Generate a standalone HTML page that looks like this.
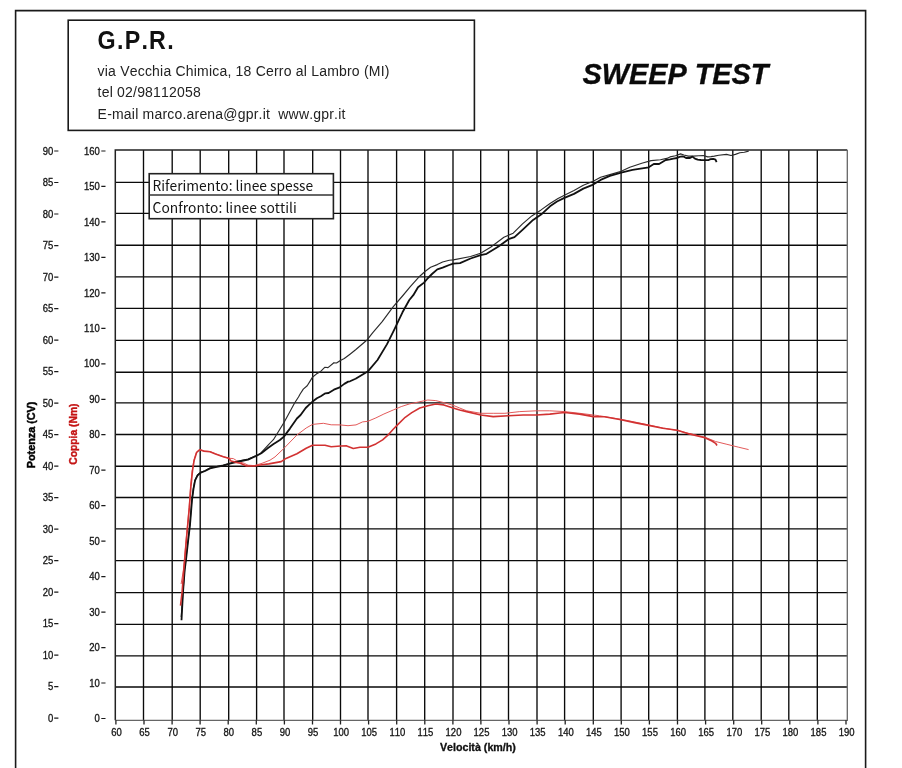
<!DOCTYPE html><html><head><meta charset="utf-8"><title>SWEEP TEST - G.P.R.</title>
<style>html,body{margin:0;padding:0;background:#fff;}svg{display:block;}text{font-family:"Liberation Sans", Arial, sans-serif;font-kerning:none;} text.lg{font-family:"Noto Sans CJK JP","Liberation Sans",sans-serif;}</style></head><body>
<svg width="902" height="768" viewBox="0 0 902 768">
<rect x="0" y="0" width="902" height="768" fill="#fff"/>
<path d="M15.6 770 V10.6 H865.6 V770" fill="none" stroke="#1a1a1a" stroke-width="1.6"/>
<rect x="68.2" y="20.2" width="406.2" height="110.2" fill="none" stroke="#1a1a1a" stroke-width="1.6"/>
<text transform="translate(97.6 48.7) scale(0.93 1)" font-size="25" font-weight="bold" letter-spacing="1.35" fill="#111">G.P.R.</text>
<g font-size="14" fill="#222" letter-spacing="0.2">
<text x="97.6" y="75.8">via Vecchia Chimica, 18 Cerro al Lambro (MI)</text>
<text x="97.6" y="96.8">tel 02/98112058</text>
<text x="97.6" y="118.7" xml:space="preserve">E-mail marco.arena@gpr.it  www.gpr.it</text>
</g>
<text transform="translate(582.5 83.6) scale(0.975 1)" font-size="29.6" font-weight="bold" font-style="italic" fill="#0a0a0a" stroke="#0a0a0a" stroke-width="0.35">SWEEP TEST</text>
<path d="M143.5 150.0 V720.3 M172.2 150.0 V720.3 M200.2 150.0 V720.3 M228.7 150.0 V720.3 M256.6 150.0 V720.3 M284.0 150.0 V720.3 M312.7 150.0 V720.3 M340.5 150.0 V720.3 M368.0 150.0 V720.3 M396.6 150.0 V720.3 M424.7 150.0 V720.3 M453.0 150.0 V720.3 M480.7 150.0 V720.3 M508.5 150.0 V720.3 M537.0 150.0 V720.3 M564.6 150.0 V720.3 M593.3 150.0 V720.3 M621.1 150.0 V720.3 M648.7 150.0 V720.3 M677.4 150.0 V720.3 M704.9 150.0 V720.3 M732.8 150.0 V720.3 M761.2 150.0 V720.3 M788.8 150.0 V720.3 M817.3 150.0 V720.3 M115.3 182.3 H847.3 M115.3 213.4 H847.3 M115.3 245.2 H847.3 M115.3 276.9 H847.3 M115.3 308.4 H847.3 M115.3 340.4 H847.3 M115.3 372.2 H847.3 M115.3 402.9 H847.3 M115.3 434.5 H847.3 M115.3 466.2 H847.3 M115.3 497.5 H847.3 M115.3 528.8 H847.3 M115.3 560.6 H847.3 M115.3 592.6 H847.3 M115.3 624.3 H847.3 M115.3 655.8 H847.3 M115.3 687.0 H847.3" fill="none" stroke="#0a0a0a" stroke-width="1.35"/>
<path d="M115.3 720.3 V150.0 H847.3" fill="none" stroke="#222" stroke-width="1.5"/>
<path d="M847.3 150.0 V720.3 H115.3" fill="none" stroke="#666" stroke-width="1.3"/>
<path d="M115.9 720.3 V724.6 M144.0 720.3 V724.6 M172.1 720.3 V724.6 M200.1 720.3 V724.6 M228.2 720.3 V724.6 M256.3 720.3 V724.6 M284.4 720.3 V724.6 M312.5 720.3 V724.6 M340.5 720.3 V724.6 M368.6 720.3 V724.6 M396.7 720.3 V724.6 M424.8 720.3 V724.6 M452.9 720.3 V724.6 M480.9 720.3 V724.6 M509.0 720.3 V724.6 M537.1 720.3 V724.6 M565.2 720.3 V724.6 M593.3 720.3 V724.6 M621.3 720.3 V724.6 M649.4 720.3 V724.6 M677.5 720.3 V724.6 M705.6 720.3 V724.6 M733.7 720.3 V724.6 M761.7 720.3 V724.6 M789.8 720.3 V724.6 M817.9 720.3 V724.6 M846.0 720.3 V724.6" fill="none" stroke="#222" stroke-width="1.3"/>
<g font-size="10.1" fill="#141414" stroke="#141414" stroke-width="0.3" text-anchor="middle">
<text transform="translate(116.5 736.3) scale(0.94 1)">60</text>
<text transform="translate(144.6 736.3) scale(0.94 1)">65</text>
<text transform="translate(172.7 736.3) scale(0.94 1)">70</text>
<text transform="translate(200.7 736.3) scale(0.94 1)">75</text>
<text transform="translate(228.8 736.3) scale(0.94 1)">80</text>
<text transform="translate(256.9 736.3) scale(0.94 1)">85</text>
<text transform="translate(285.0 736.3) scale(0.94 1)">90</text>
<text transform="translate(313.1 736.3) scale(0.94 1)">95</text>
<text transform="translate(341.1 736.3) scale(0.94 1)">100</text>
<text transform="translate(369.2 736.3) scale(0.94 1)">105</text>
<text transform="translate(397.3 736.3) scale(0.94 1)">110</text>
<text transform="translate(425.4 736.3) scale(0.94 1)">115</text>
<text transform="translate(453.5 736.3) scale(0.94 1)">120</text>
<text transform="translate(481.5 736.3) scale(0.94 1)">125</text>
<text transform="translate(509.6 736.3) scale(0.94 1)">130</text>
<text transform="translate(537.7 736.3) scale(0.94 1)">135</text>
<text transform="translate(565.8 736.3) scale(0.94 1)">140</text>
<text transform="translate(593.9 736.3) scale(0.94 1)">145</text>
<text transform="translate(621.9 736.3) scale(0.94 1)">150</text>
<text transform="translate(650.0 736.3) scale(0.94 1)">155</text>
<text transform="translate(678.1 736.3) scale(0.94 1)">160</text>
<text transform="translate(706.2 736.3) scale(0.94 1)">165</text>
<text transform="translate(734.3 736.3) scale(0.94 1)">170</text>
<text transform="translate(762.3 736.3) scale(0.94 1)">175</text>
<text transform="translate(790.4 736.3) scale(0.94 1)">180</text>
<text transform="translate(818.5 736.3) scale(0.94 1)">185</text>
<text transform="translate(846.6 736.3) scale(0.94 1)">190</text>
</g>
<g font-size="10.1" fill="#141414" stroke="#141414" stroke-width="0.3" text-anchor="end">
<text transform="translate(53.3 721.8) scale(0.94 1)">0</text>
<text transform="translate(53.3 690.3) scale(0.94 1)">5</text>
<text transform="translate(53.3 658.8) scale(0.94 1)">10</text>
<text transform="translate(53.3 627.3) scale(0.94 1)">15</text>
<text transform="translate(53.3 595.8) scale(0.94 1)">20</text>
<text transform="translate(53.3 564.3) scale(0.94 1)">25</text>
<text transform="translate(53.3 532.7) scale(0.94 1)">30</text>
<text transform="translate(53.3 501.2) scale(0.94 1)">35</text>
<text transform="translate(53.3 469.7) scale(0.94 1)">40</text>
<text transform="translate(53.3 438.2) scale(0.94 1)">45</text>
<text transform="translate(53.3 406.7) scale(0.94 1)">50</text>
<text transform="translate(53.3 375.2) scale(0.94 1)">55</text>
<text transform="translate(53.3 343.7) scale(0.94 1)">60</text>
<text transform="translate(53.3 312.2) scale(0.94 1)">65</text>
<text transform="translate(53.3 280.7) scale(0.94 1)">70</text>
<text transform="translate(53.3 249.2) scale(0.94 1)">75</text>
<text transform="translate(53.3 217.6) scale(0.94 1)">80</text>
<text transform="translate(53.3 186.1) scale(0.94 1)">85</text>
<text transform="translate(53.3 154.6) scale(0.94 1)">90</text>
<text transform="translate(99.9 722.1) scale(0.94 1)">0</text>
<text transform="translate(99.9 686.6) scale(0.94 1)">10</text>
<text transform="translate(99.9 651.2) scale(0.94 1)">20</text>
<text transform="translate(99.9 615.7) scale(0.94 1)">30</text>
<text transform="translate(99.9 580.2) scale(0.94 1)">40</text>
<text transform="translate(99.9 544.8) scale(0.94 1)">50</text>
<text transform="translate(99.9 509.3) scale(0.94 1)">60</text>
<text transform="translate(99.9 473.8) scale(0.94 1)">70</text>
<text transform="translate(99.9 438.3) scale(0.94 1)">80</text>
<text transform="translate(99.9 402.9) scale(0.94 1)">90</text>
<text transform="translate(99.9 367.4) scale(0.94 1)">100</text>
<text transform="translate(99.9 331.9) scale(0.94 1)">110</text>
<text transform="translate(99.9 296.5) scale(0.94 1)">120</text>
<text transform="translate(99.9 261.0) scale(0.94 1)">130</text>
<text transform="translate(99.9 225.5) scale(0.94 1)">140</text>
<text transform="translate(99.9 190.0) scale(0.94 1)">150</text>
<text transform="translate(99.9 154.6) scale(0.94 1)">160</text>
</g>
<path d="M54.2 718.2 H58.4 M54.2 686.7 H58.4 M54.2 655.2 H58.4 M54.2 623.7 H58.4 M54.2 592.2 H58.4 M54.2 560.7 H58.4 M54.2 529.1 H58.4 M54.2 497.6 H58.4 M54.2 466.1 H58.4 M54.2 434.6 H58.4 M54.2 403.1 H58.4 M54.2 371.6 H58.4 M54.2 340.1 H58.4 M54.2 308.6 H58.4 M54.2 277.1 H58.4 M54.2 245.6 H58.4 M54.2 214.0 H58.4 M54.2 182.5 H58.4 M54.2 151.0 H58.4 M101.3 718.5 H105.5 M101.3 683.0 H105.5 M101.3 647.6 H105.5 M101.3 612.1 H105.5 M101.3 576.6 H105.5 M101.3 541.1 H105.5 M101.3 505.7 H105.5 M101.3 470.2 H105.5 M101.3 434.7 H105.5 M101.3 399.3 H105.5 M101.3 363.8 H105.5 M101.3 328.3 H105.5 M101.3 292.9 H105.5 M101.3 257.4 H105.5 M101.3 221.9 H105.5 M101.3 186.4 H105.5 M101.3 151.0 H105.5" fill="none" stroke="#1a1a1a" stroke-width="1.2"/>
<text transform="translate(35 434.9) rotate(-90)" text-anchor="middle" font-size="10.8" font-weight="bold" fill="#000" stroke="#000" stroke-width="0.45">Potenza (CV)</text>
<text transform="translate(77 434.1) rotate(-90)" text-anchor="middle" font-size="10.3" font-weight="bold" fill="#c41414" stroke="#c41414" stroke-width="0.4">Coppia (Nm)</text>
<text x="477.9" y="750.8" text-anchor="middle" font-size="10.7" font-weight="bold" fill="#111" stroke="#111" stroke-width="0.3">Velocità (km/h)</text>
<rect x="149.2" y="173.7" width="184.2" height="45" fill="#fff" stroke="#222" stroke-width="1.6"/>
<path d="M149.2 195 H333.4" stroke="#333" stroke-width="1.6"/>
<g font-size="13.8" fill="#151515" font-weight="400">
<text class="lg" x="152.6" y="190.9" textLength="160.6" lengthAdjust="spacing">Riferimento: linee spesse</text>
<text class="lg" x="152.6" y="213.1" textLength="144.2" lengthAdjust="spacing">Confronto: linee sottili</text>
</g>
<polyline points="181.1,584.0 182.1,578.0 183.4,570.0 184.3,560.0 186.0,540.0 187.4,525.0 189.0,507.5 190.5,486.7 192.1,471.0 193.8,460.6 196.4,452.3 199.6,449.5 204.0,450.8 210.0,451.5 215.5,453.8 223.3,456.7 228.7,458.2 233.4,458.6 236.5,460.6 240.3,462.1 244.2,463.3 248.1,465.2 254.3,465.6 262.0,463.3 270.0,460.2 275.0,456.9 284.0,448.3 296.9,435.0 306.2,428.0 312.5,424.4 323.4,423.3 331.2,424.8 340.0,424.9 348.0,425.7 356.0,424.9 362.6,421.9 367.9,421.3 375.9,417.9 383.9,414.0 393.2,410.0 401.2,406.6 409.2,404.0 418.5,402.0 427.8,400.0 435.8,400.6 443.8,402.6 453.1,405.3 459.7,408.0 466.6,410.8 480.8,413.3 493.2,413.3 504.9,413.3 519.8,411.6 536.5,410.8 549.8,410.8 564.8,411.6 579.7,413.3 593.4,415.0 599.7,415.8 621.0,419.3 634.6,422.0 648.7,425.0 662.8,428.0 677.5,430.6 689.2,433.5 704.9,437.2 715.6,441.5 726.9,444.3 738.2,447.1 748.6,449.6" fill="none" stroke="#e35a5a" stroke-width="1.0" stroke-linejoin="round"/>
<polyline points="181.2,617.0 183.0,592.1 184.6,570.0 185.8,560.0 187.8,542.0 189.8,525.0 191.8,500.2 193.3,488.8 194.9,480.4 197.5,475.0 200.8,472.3 205.0,470.7 210.0,468.1 215.5,466.8 223.3,465.0 228.7,463.5 234.9,461.8 241.1,460.5 248.1,459.0 252.8,457.0 256.6,455.5 260.5,453.5 268.8,444.4 273.4,439.7 284.0,422.5 288.1,415.0 294.6,403.0 298.5,397.0 300.0,394.3 303.3,389.1 307.2,385.8 310.4,380.6 312.4,377.3 316.3,374.1 320.2,371.8 324.7,367.3 328.0,367.6 333.9,362.7 336.5,363.0 340.4,360.4 344.3,358.5 350.0,354.2 355.6,349.8 367.3,339.7 372.8,332.7 382.2,321.7 393.1,306.9 402.5,296.0 410.3,286.6 418.6,277.3 425.3,271.3 430.6,267.3 437.3,264.6 442.6,262.0 449.2,260.3 453.3,259.9 470.6,256.5 480.6,253.2 490.6,247.2 503.9,237.2 513.2,233.2 522.5,223.9 531.8,215.9 541.1,209.9 550.4,203.3 558.0,198.5 564.4,195.2 574.0,190.6 583.3,185.2 593.2,181.2 600.6,177.2 609.9,174.6 621.2,171.3 629.8,167.3 641.8,163.3 651.1,160.6 660.4,159.8 666.7,158.4 670.0,156.9 675.5,155.8 680.5,153.9 683.9,155.0 688.3,156.1 693.3,156.1 698.8,155.8 703.3,155.5 707.7,156.9 711.0,156.6 714.3,156.1 718.8,155.3 726.5,154.4 731.0,155.5 735.4,154.4 739.8,152.7 744.3,152.2 748.7,151.1" fill="none" stroke="#2a2a2a" stroke-width="1.15" stroke-linejoin="round"/>
<polyline points="181.5,620.2 183.0,592.1 184.7,570.0 186.0,560.0 188.0,542.0 190.0,525.0 192.0,500.2 193.5,488.8 195.1,480.4 197.7,475.2 200.8,472.6 205.0,471.0 210.0,468.4 215.5,467.2 223.3,465.6 228.7,464.0 234.9,462.3 241.1,461.0 248.1,459.6 252.8,457.5 256.6,455.8 261.3,453.3 267.3,448.6 273.2,444.3 279.9,440.0 283.9,436.6 289.9,428.6 296.9,418.5 300.6,415.0 305.7,408.0 308.4,405.3 312.3,401.8 316.9,398.2 320.8,396.2 325.4,393.3 328.6,393.0 333.9,389.7 339.7,387.4 344.3,383.9 348.2,381.6 350.0,381.3 355.6,378.8 368.1,371.2 377.5,360.0 386.9,344.4 393.9,330.3 402.5,312.3 409.3,300.0 413.3,295.2 418.0,287.3 424.0,282.6 428.0,278.0 432.0,274.0 437.3,269.3 442.6,267.6 449.2,265.0 453.2,263.6 460.0,263.1 470.6,258.5 480.6,255.2 486.6,253.8 498.5,246.5 508.5,239.2 514.5,237.2 522.5,229.9 533.1,219.9 541.1,214.6 550.0,206.3 557.0,201.5 564.4,197.9 574.0,193.9 583.3,188.6 593.2,184.6 600.6,179.9 609.9,175.9 621.2,172.6 632.5,169.9 648.7,167.3 653.8,164.0 659.1,164.0 665.7,160.0 670.0,159.4 673.3,158.6 677.2,158.0 679.4,156.9 682.2,156.4 684.4,156.9 686.1,158.0 690.0,158.0 692.4,156.6 694.9,158.6 697.7,159.7 701.0,160.0 704.6,160.2 708.2,160.2 710.5,159.1 713.2,158.9 715.5,159.7 716.6,162.2" fill="none" stroke="#111" stroke-width="1.8" stroke-linejoin="round"/>
<polyline points="180.5,605.6 182.1,592.0 183.8,570.0 184.7,560.0 186.4,540.0 187.8,525.0 189.4,507.5 190.9,486.7 192.5,471.0 194.1,460.6 196.7,452.3 199.8,449.7 204.0,451.2 210.0,451.8 215.5,454.0 223.3,456.7 228.7,458.2 231.0,461.0 234.9,462.1 240.3,463.3 246.5,466.0 254.3,466.0 262.0,464.8 268.8,463.9 281.2,461.6 286.0,458.4 296.9,453.8 306.2,448.3 312.5,445.2 325.0,445.2 331.2,446.7 340.6,446.0 346.7,445.9 353.3,448.5 360.0,447.2 367.9,447.2 375.9,443.9 382.6,439.9 387.9,435.2 393.2,429.2 398.5,423.9 405.2,417.3 411.8,412.6 419.8,408.0 427.8,405.7 435.8,404.0 443.8,404.9 453.1,408.0 459.7,410.0 466.6,411.6 480.8,415.0 493.2,416.6 508.5,415.8 523.2,415.0 536.5,415.0 549.8,414.1 559.8,413.0 564.8,412.5 579.7,414.1 593.4,416.6 604.4,416.8 621.0,419.8 634.6,422.6 648.7,425.4 662.8,428.3 677.5,430.2 689.2,433.9 704.9,437.7 712.0,441.0 715.6,443.3 717.0,445.5" fill="none" stroke="#d23232" stroke-width="1.6" stroke-linejoin="round"/>
</svg></body></html>
